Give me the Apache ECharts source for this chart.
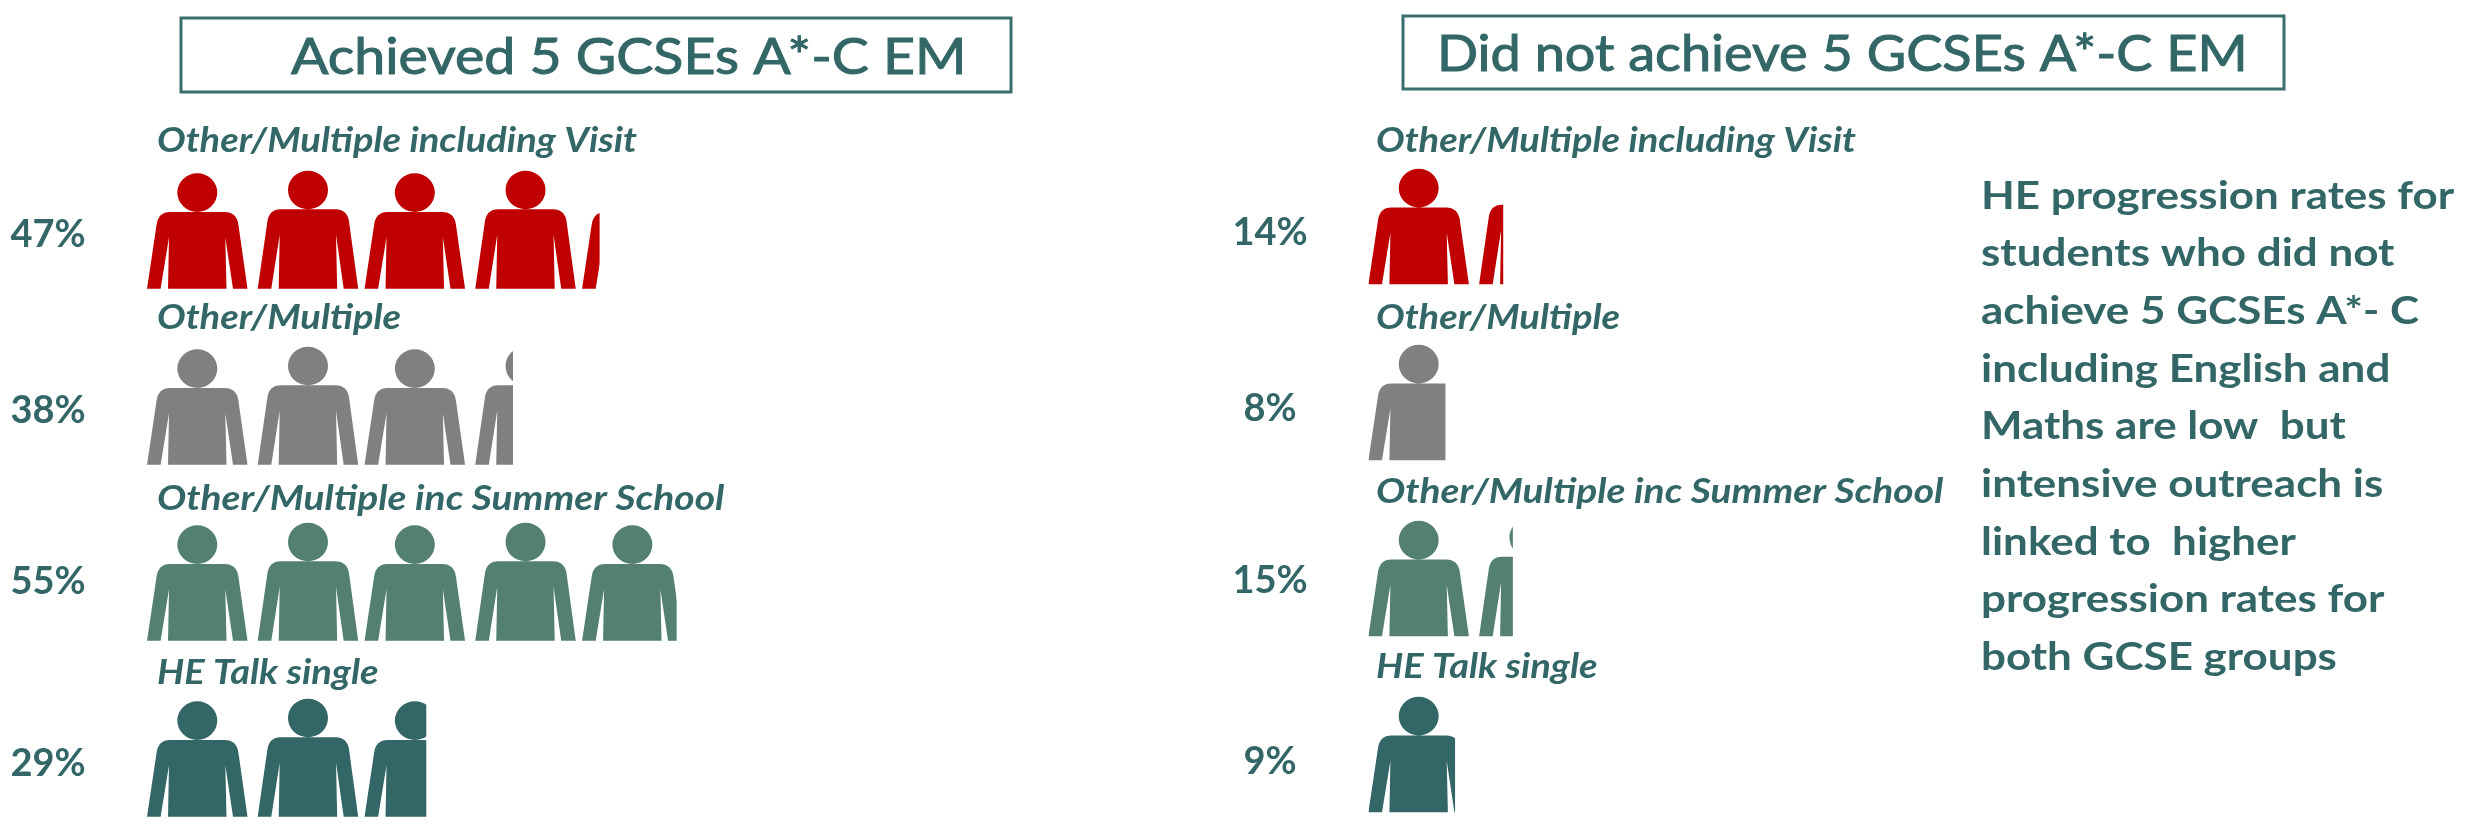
<!DOCTYPE html>
<html>
<head>
<meta charset="utf-8">
<title>HE progression by GCSE group</title>
<script src="https://cdn.jsdelivr.net/npm/echarts@6/dist/echarts.min.js"></script>
<style>
  html, body { margin: 0; padding: 0; background: #fff; }
  #chart { width: 2470px; height: 837px; }
</style>
</head>
<body>
<div id="chart"></div>
<script>
const categories = ['Other/Multiple including Visit', 'Other/Multiple', 'Other/Multiple inc Summer School', 'HE Talk single'];
const achieved = [47, 38, 55, 29];
const notAchieved = [14, 8, 15, 9];
const rowColors = ['#C00000', '#808080', '#548072', '#336666'];
const noteLines = [
  'HE progression rates for',
  'students who did not',
  'achieve 5 GCSEs A*- C',
  'including English and',
  'Maths are low  but',
  'intensive outreach is',
  'linked to  higher',
  'progression rates for',
  'both GCSE groups'
];

const TEAL = '#336666';

// one person, drawn in a 118 high box. Two of them make the repeating symbol,
// the source picture alternates a slightly shorter and a taller figure
function person(dx, dy) {
  const x = (v) => (v + dx).toFixed(1);
  const y = (v) => (v + dy).toFixed(1);
  const cx = 50.3, cy = 19.3, rx = 20, ry = 19.3;
  const head = `M${x(cx - rx)} ${y(cy)}A${rx} ${ry} 0 1 1 ${x(cx + rx)} ${y(cy)}A${rx} ${ry} 0 1 1 ${x(cx - rx)} ${y(cy)}Z`;
  const body = `M${x(0)} 118L${x(9.5)} ${y(52)}Q${x(11)} ${y(38.6)} ${x(23)} ${y(38.6)}L${x(77.5)} ${y(38.6)}`
    + `Q${x(90)} ${y(38.6)} ${x(91.5)} ${y(52)}L${x(100.5)} 118L${x(86)} 118L${x(78.3)} ${y(64)}L${x(79.5)} 118`
    + `L${x(21)} 118L${x(22)} ${y(64)}L${x(13.6)} 118Z`;
  return head + body;
}
const personPair = 'path://' + person(0, 2.6) + person(110.7, 0);

// panel positions
const panels = [
  { values: achieved, left: 147, top: 141.7, pctX: 48, pctY: [235, 411, 582, 764], nameX: 157, nameY: [141, 318, 499, 673] },
  { values: notAchieved, left: 1368.4, top: 137.2, pctX: 1270, pctY: [233, 409, 581, 762], nameX: 1376, nameY: [141, 318, 492, 667] }
];

const chart = echarts.init(document.getElementById('chart'));

const grid = panels.map((p) => ({ left: p.left, top: p.top, width: 963, height: 704, outerBoundsMode: 'none' }));
const xAxis = panels.map((p, i) => ({ type: 'value', gridIndex: i, min: 0, max: 100, show: false }));
const yAxis = panels.map((p, i) => ({ type: 'category', gridIndex: i, inverse: true, data: categories, show: false }));

// four pairs laid out over 89.7 of the axis keeps the figure spacing of the picture,
// symbolClip then cuts each row at its value
const series = panels.map((p, i) => ({
  type: 'pictorialBar',
  xAxisIndex: i,
  yAxisIndex: i,
  barWidth: '100%',
  symbol: personPair,
  symbolSize: [211.2, 118],
  symbolRepeat: 4,
  symbolClip: true,
  symbolBoundingData: 89.7,
  symbolPosition: 'start',
  silent: true,
  data: p.values.map((v, r) => ({ value: v, itemStyle: { color: rowColors[r] } }))
}));

function text(str, x, y, font, stretch, outline, align) {
  return {
    type: 'text',
    x: x,
    y: y,
    scaleX: stretch,
    silent: true,
    style: {
      text: str, x: 0, y: 0, fill: TEAL, font: font,
      textAlign: align || 'left', textVerticalAlign: 'middle',
      stroke: outline ? TEAL : null, lineWidth: outline || 0
    }
  };
}

const graphic = [
  { type: 'rect', shape: { x: 181, y: 18, width: 830, height: 74 }, style: { fill: 'none', stroke: '#3B6E6E', lineWidth: 3 }, silent: true },
  { type: 'rect', shape: { x: 1403, y: 16, width: 881, height: 73 }, style: { fill: 'none', stroke: '#3B6E6E', lineWidth: 3 }, silent: true },
  text('Achieved 5 GCSEs A*-C EM', 291, 58, '51px Lato', 1.087, 1),
  text('Did not achieve 5 GCSEs A*-C EM', 1437, 55, '51px Lato', 1.06, 1)
];
panels.forEach((p) => {
  categories.forEach((c, r) => {
    graphic.push(text(c, p.nameX, p.nameY[r], 'italic bold 34px Lato', r === 2 ? 1.145 : 1.12));
    graphic.push(text(p.values[r] + '%', p.pctX, p.pctY[r], 'bold 38px Lato', 1, 0, 'center'));
  });
});
noteLines.forEach((l, r) => {
  graphic.push(text(l, 1981, 196 + r * 57.7, 'bold 39px Lato', 1.127));
});

chart.setOption({
  animation: false,
  backgroundColor: '#fff',
  grid: grid,
  xAxis: xAxis,
  yAxis: yAxis,
  series: series,
  graphic: graphic
});
</script>
</body>
</html>
